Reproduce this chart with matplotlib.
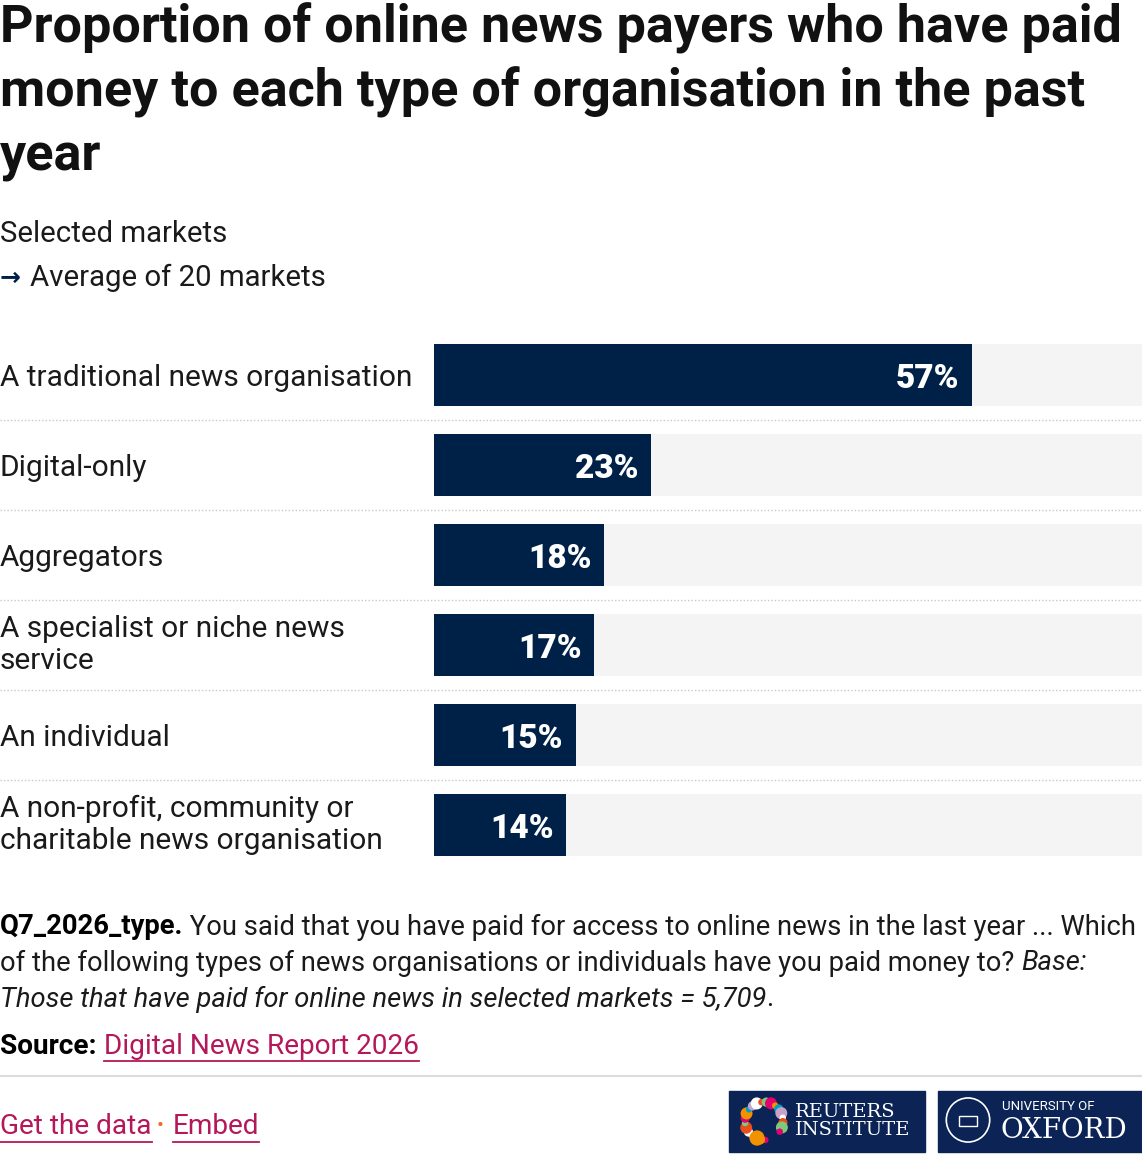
import matplotlib
matplotlib.use("Agg")
import matplotlib.pyplot as plt
from matplotlib.patches import Rectangle, Circle
from matplotlib.lines import Line2D
import matplotlib.transforms as mtransforms
import numpy as np

plt.rcParams["font.family"] = ["Roboto", "DejaVu Sans"]

# Data
categories = [
    "A traditional news organisation",
    "Digital-only",
    "Aggregators",
    "A specialist or niche news\nservice",
    "An individual",
    "A non-profit, community or\ncharitable news organisation",
]
values = [57, 23, 18, 17, 15, 14]
axis_max = 75

NAVY = "#002147"
TRACK = "#f4f4f4"
TEXT = "#1a1a1a"
LINK = "#b5185a"

W, H = 1142, 1160
fig = plt.figure(figsize=(W / 100, H / 100), dpi=100)


def fy(px):
    return 1 - px / H


def fx(px):
    return px / W


# Title & subtitle
title_lines = ["Proportion of online news payers who have paid",
               "money to each type of organisation in the past",
               "year"]
for line, base in zip(title_lines, [42, 107, 171]):
    fig.text(0, fy(base), line, fontsize=37.5, fontweight="bold", color="#111111",
             va="baseline", ha="left")
fig.text(0, fy(234), "Selected markets", fontsize=21.2, color=TEXT, va="center")
fig.text(0, fy(278), "→", fontsize=18, color=NAVY, va="center", fontweight="bold",
         family="DejaVu Sans")
fig.text(fx(30), fy(278), "Average of 20 markets", fontsize=21.2, color=TEXT, va="center")

# Bar chart
ax = fig.add_axes([fx(434), fy(870), 1 - fx(434), (870 - 330) / H])
y = np.arange(len(categories))
ax.barh(y, [axis_max] * len(y), height=0.69, color=TRACK, zorder=1)
ax.barh(y, values, height=0.69, color=NAVY, zorder=2)
ax.set_xlim(0, axis_max)
ax.set_ylim(len(y) - 0.5, -0.5)
ax.axis("off")

for yi, v in zip(y, values):
    ax.annotate(f"{v}%", xy=(v, yi), xytext=(-9, 0), textcoords="offset points",
                ha="right", va="center_baseline", color="white", fontsize=24,
                fontweight="black", zorder=3)

lab_tr = mtransforms.blended_transform_factory(fig.transFigure, ax.transData)
for yi, lab in zip(y, categories):
    ax.text(0, yi, lab, transform=lab_tr, ha="left",
            va="center" if "\n" in lab else "center_baseline", fontsize=21.5,
            color=TEXT, linespacing=1.2, clip_on=False)

for yi in y[:-1]:
    ax.add_line(Line2D([0, 1], [yi + 0.5, yi + 0.5], transform=lab_tr,
                       color="#c8c8c8", linestyle=(0, (1, 1.5)), linewidth=1,
                       clip_on=False))

# Footnote with mixed styles
renderer = fig.canvas.get_renderer()


def runs(x0, ypx, parts, size=19.7):
    x = x0
    for s, style in parts:
        kw = dict(fontsize=size, color=TEXT, va="center", ha="left")
        if style == "b":
            kw["fontweight"] = "bold"
            kw["color"] = "#000000"
        elif style == "i":
            kw["fontstyle"] = "italic"
        elif style == "link":
            kw["color"] = LINK
        t = fig.text(x, fy(ypx), s, **kw)
        bb = t.get_window_extent(renderer)
        if style == "link":
            fig.add_artist(Line2D([bb.x0 / W, bb.x1 / W], [fy(ypx + 15)] * 2,
                                  color=LINK, linewidth=1.3))
        x = bb.x1 / W
    return x


runs(0, 927, [("Q7_2026_type.", "b"),
              (" You said that you have paid for access to online news in the last year ... Which", "r")])
runs(0, 963, [("of the following types of news organisations or individuals have you paid money to? ", "r"),
              ("Base:", "i")])
runs(0, 999, [("Those that have paid for online news in selected markets = 5,709", "i"), (".", "r")])
runs(0, 1046, [("Source: ", "b"), ("Digital News Report 2026", "link")], size=20.2)

fig.add_artist(Line2D([0, 1], [fy(1076)] * 2, color="#dddddd", linewidth=1.5))

x = runs(0, 1127, [("Get the data", "link")], size=20.2)
fig.text(x + fx(5), fy(1126), "•", color="#f26a21", fontsize=15, va="center")
runs(x + fx(21), 1127, [("Embed", "link")], size=20.2)

# Logos
LOGO = "#0b2455"
fig.add_artist(Rectangle((fx(729), fy(1152)), fx(196), (1152 - 1091) / H,
                         transform=fig.transFigure, color=LOGO))
dot_colors = ["#e4006d", "#f39200", "#00a0c6", "#c8a2c8", "#ffffff", "#e94e1b", "#7fc97f"]
ang = np.linspace(0.3, 2 * np.pi - 0.6, 22)
for i, a in enumerate(ang):
    cx = 764 + 19 * np.cos(a + 1.2)
    cy = 1121 + 19 * np.sin(a + 1.2)
    fig.add_artist(Circle((fx(cx), fy(cy)), 0.0022 + 0.0012 * (i % 3),
                          transform=fig.transFigure,
                          color=dot_colors[i % len(dot_colors)]))
fig.add_artist(Circle((fx(757), fy(1138)), 0.006, transform=fig.transFigure, color="#f39200"))
fig.text(fx(795), fy(1121), "REUTERS\nINSTITUTE", family="DejaVu Serif", color="white",
         fontsize=14, va="center", ha="left", linespacing=0.95)

fig.add_artist(Rectangle((fx(938), fy(1152)), fx(204), (1152 - 1091) / H,
                         transform=fig.transFigure, color=LOGO))
fig.add_artist(Circle((fx(968), fy(1120)), 0.019, transform=fig.transFigure,
                      fill=False, edgecolor="white", linewidth=1.2))
fig.add_artist(Rectangle((fx(959), fy(1126)), fx(18), 10 / H, transform=fig.transFigure,
                         fill=False, edgecolor="white", linewidth=1))
fig.text(fx(1002), fy(1107), "UNIVERSITY OF", color="white", fontsize=9.5, va="center")
fig.text(fx(1000), fy(1131), "OXFORD", family="DejaVu Serif", color="white",
         fontsize=20, va="center")

fig.savefig("out.png", dpi=100, facecolor="white")
